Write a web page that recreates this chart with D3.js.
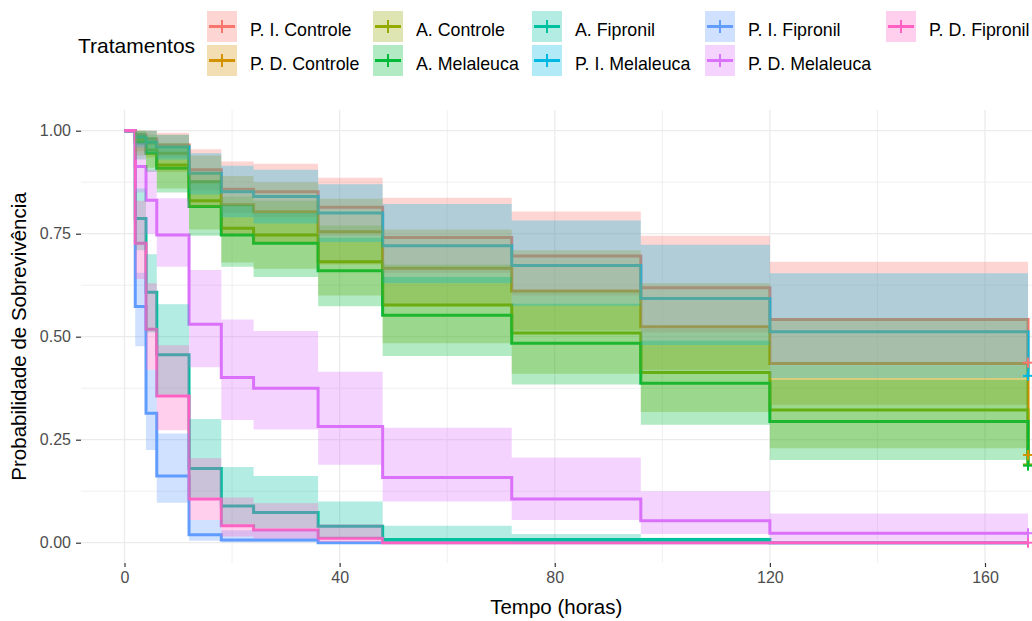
<!DOCTYPE html>
<html>
<head>
<meta charset="utf-8">
<script src="https://cdn.jsdelivr.net/npm/d3@7"></script>
<style>
  body { margin: 0; background: #ffffff; }
  text { font-family: "Liberation Sans", Arial, sans-serif; }
</style>
</head>
<body>
<svg id="chart" width="1032" height="621"></svg>
<script>
// Kaplan-Meier survival by treatment: step estimates with confidence bands.
const times = [0, 2, 4, 6, 12, 18, 24, 36, 48, 72, 96, 120, 168];

const groupNames = ["P. I. Controle", "P. D. Controle", "A. Controle", "A. Melaleuca",
  "A. Fipronil", "P. I. Melaleuca", "P. I. Fipronil", "P. D. Melaleuca", "P. D. Fipronil"];
const groupColors = ["#F8766D", "#D39200", "#93AA00", "#00BA38",
  "#00C19F", "#00B9E3", "#619CFF", "#DB72FB", "#FF61C3"];

// survival estimate at each entry of `times`
const survPIControle  = [1, 0.990, 0.980, 0.965, 0.905, 0.858, 0.852, 0.814, 0.741, 0.696, 0.619, 0.542, 0.437];
const survPDControle  = [1, 0.980, 0.970, 0.945, 0.876, 0.820, 0.803, 0.755, 0.666, 0.611, 0.524, 0.435, 0.213];
const survAControle   = [1, 0.975, 0.953, 0.917, 0.830, 0.763, 0.747, 0.682, 0.577, 0.509, 0.413, 0.322, 0.190];
const survAMelaleuca  = [1, 0.970, 0.945, 0.909, 0.816, 0.747, 0.727, 0.660, 0.552, 0.484, 0.387, 0.294, 0.187];
const survAFipronil   = [1, 0.787, 0.608, 0.456, 0.180, 0.089, 0.073, 0.040, 0.008, 0.008, 0.008, 0, 0];
const survPIMelaleuca = [1, 0.985, 0.972, 0.961, 0.897, 0.852, 0.840, 0.800, 0.721, 0.673, 0.593, 0.512, 0.405];
const survPIFipronil  = [1, 0.573, 0.314, 0.162, 0.019, 0.0066, 0.0066, 0, 0, 0, 0, 0, 0];
const survPDMelaleuca = [1, 0.913, 0.831, 0.747, 0.530, 0.401, 0.375, 0.282, 0.158, 0.106, 0.053, 0.023, 0.023];
const survPDFipronil  = [1, 0.727, 0.518, 0.356, 0.106, 0.041, 0.031, 0.011, 0, 0, 0, 0, 0];

// upper confidence limit
const upperPIControle  = [1, 1, 1, 0.995, 0.955, 0.925, 0.920, 0.886, 0.837, 0.804, 0.745, 0.682, 0.682];
const upperPDControle  = [1, 1, 1, 0.990, 0.940, 0.890, 0.875, 0.835, 0.760, 0.710, 0.630, 0.545, 0.545];
const upperAControle   = [1, 1, 0.990, 0.970, 0.900, 0.840, 0.830, 0.770, 0.675, 0.610, 0.520, 0.430, 0.430];
const upperAMelaleuca  = [1, 0.995, 0.985, 0.960, 0.880, 0.820, 0.800, 0.740, 0.645, 0.580, 0.490, 0.395, 0.395];
const upperAFipronil   = [1, 0.860, 0.700, 0.579, 0.300, 0.184, 0.162, 0.100, 0.041, 0.021, 0.012, 0, 0];
const upperPIMelaleuca = [1, 1, 1, 0.990, 0.945, 0.915, 0.905, 0.870, 0.822, 0.782, 0.723, 0.654, 0.654];
const upperPIFipronil  = [1, 0.655, 0.420, 0.265, 0.055, 0.030, 0.030, 0, 0, 0, 0, 0, 0];
const upperPDMelaleuca = [1, 0.970, 0.905, 0.836, 0.662, 0.542, 0.514, 0.415, 0.279, 0.207, 0.125, 0.071, 0.071];
const upperPDFipronil  = [1, 0.830, 0.630, 0.479, 0.205, 0.110, 0.096, 0.045, 0, 0, 0, 0, 0];

// lower confidence limit
const lowerPIControle  = [1, 0.970, 0.955, 0.935, 0.855, 0.800, 0.790, 0.745, 0.655, 0.600, 0.510, 0.430, 0.430];
const lowerPDControle  = [1, 0.950, 0.935, 0.900, 0.815, 0.750, 0.730, 0.675, 0.575, 0.515, 0.420, 0.335, 0.335];
const lowerAControle   = [1, 0.940, 0.910, 0.860, 0.760, 0.680, 0.665, 0.600, 0.484, 0.410, 0.317, 0.229, 0.229];
const lowerAMelaleuca  = [1, 0.930, 0.900, 0.850, 0.745, 0.670, 0.645, 0.574, 0.453, 0.384, 0.286, 0.201, 0.201];
const lowerAFipronil   = [1, 0.710, 0.510, 0.360, 0.110, 0.045, 0.035, 0.012, 0.002, 0.001, 0.001, 0, 0];
const lowerPIMelaleuca = [1, 0.960, 0.945, 0.930, 0.845, 0.790, 0.775, 0.730, 0.630, 0.575, 0.480, 0.400, 0.400];
const lowerPIFipronil  = [1, 0.477, 0.225, 0.097, 0.005, 0.001, 0.001, 0, 0, 0, 0, 0, 0];
const lowerPDMelaleuca = [1, 0.850, 0.750, 0.670, 0.426, 0.298, 0.275, 0.189, 0.100, 0.055, 0.021, 0.005, 0.005];
const lowerPDFipronil  = [1, 0.640, 0.420, 0.273, 0.055, 0.015, 0.010, 0.002, 0, 0, 0, 0, 0];

// groups still holding censored subjects at the end of follow-up
const censoredAtEnd = [true, true, true, true, false, true, false, true, true];

const survAll  = [survPIControle, survPDControle, survAControle, survAMelaleuca, survAFipronil,
  survPIMelaleuca, survPIFipronil, survPDMelaleuca, survPDFipronil];
const upperAll = [upperPIControle, upperPDControle, upperAControle, upperAMelaleuca, upperAFipronil,
  upperPIMelaleuca, upperPIFipronil, upperPDMelaleuca, upperPDFipronil];
const lowerAll = [lowerPIControle, lowerPDControle, lowerAControle, lowerAMelaleuca, lowerAFipronil,
  lowerPIMelaleuca, lowerPIFipronil, lowerPDMelaleuca, lowerPDFipronil];

const xTicks = [0, 40, 80, 120, 160];
const yTicks = [0, 0.25, 0.5, 0.75, 1];
const xMinor = [20, 60, 100, 140];
const yMinor = [0.125, 0.375, 0.625, 0.875];

const svg = d3.select("#chart");
const panel = { left: 81, right: 1032, top: 110, bottom: 563 };

const x = d3.scaleLinear().domain([0, 160]).range([124.5, 985]);
const y = d3.scaleLinear().domain([0, 1]).range([542.7, 130.7]);

// grid
const grid = svg.append("g");
grid.selectAll(".xminor").data(xMinor).join("line")
  .attr("x1", d => x(d)).attr("x2", d => x(d))
  .attr("y1", panel.top).attr("y2", panel.bottom)
  .attr("stroke", "#EBEBEB").attr("stroke-width", 0.8);
grid.selectAll(".yminor").data(yMinor).join("line")
  .attr("y1", d => y(d)).attr("y2", d => y(d))
  .attr("x1", panel.left).attr("x2", panel.right)
  .attr("stroke", "#EBEBEB").attr("stroke-width", 0.8);
grid.selectAll(".xmajor").data(xTicks).join("line")
  .attr("x1", d => x(d)).attr("x2", d => x(d))
  .attr("y1", panel.top).attr("y2", panel.bottom)
  .attr("stroke", "#EBEBEB").attr("stroke-width", 1.3);
grid.selectAll(".ymajor").data(yTicks).join("line")
  .attr("y1", d => y(d)).attr("y2", d => y(d))
  .attr("x1", panel.left).attr("x2", panel.right)
  .attr("stroke", "#EBEBEB").attr("stroke-width", 1.3);

// axes
const xAxis = d3.axisBottom(x).tickValues(xTicks).tickSize(4).tickPadding(5).tickFormat(d3.format("d"));
const yAxis = d3.axisLeft(y).tickValues(yTicks).tickSize(5).tickPadding(5).tickFormat(d3.format(".2f"));

const gx = svg.append("g").attr("transform", `translate(0,${panel.bottom})`).call(xAxis);
const gy = svg.append("g").attr("transform", `translate(${panel.left},0)`).call(yAxis);
[gx, gy].forEach(g => {
  g.select(".domain").remove();
  g.selectAll(".tick line").attr("stroke", "#333333").attr("stroke-width", 1.2);
  g.selectAll(".tick text").attr("fill", "#4D4D4D").style("font-size", "16px");
});

svg.append("text")
  .attr("x", (x(0) + x(168)) / 2 - 20).attr("y", 614)
  .attr("text-anchor", "middle").attr("fill", "#000")
  .style("font-size", "20.5px").text("Tempo (horas)");
svg.append("text")
  .attr("transform", `translate(26,${(panel.top + panel.bottom) / 2}) rotate(-90)`)
  .attr("text-anchor", "middle").attr("fill", "#000")
  .style("font-size", "20.5px").text("Probabilidade de Sobrevivência");

// build per-group records
const series = groupNames.map((name, g) => ({
  name, color: groupColors[g], censored: censoredAtEnd[g],
  pts: times.map((t, i) => ({ t, s: survAll[g][i], lo: lowerAll[g][i], hi: upperAll[g][i] }))
}));

const plot = svg.append("g");

const line = d3.line().curve(d3.curveStepAfter).x(d => x(d.t)).y(d => y(d.s));
const band = d3.area().curve(d3.curveStepAfter).x(d => x(d.t)).y0(d => y(d.lo)).y1(d => y(d.hi));

// survival curves first, confidence ribbons over them, censor marks on top
plot.selectAll(".curve").data(series).join("path")
  .attr("d", d => line(d.pts))
  .attr("fill", "none").attr("stroke", d => d.color).attr("stroke-width", 3);

// ribbon holds the last interval's limits until the end of follow-up
plot.selectAll(".band").data(series).join("path")
  .attr("d", d => {
    const n = d.pts.length;
    const pts = d.pts.slice(0, n - 1).concat([{ ...d.pts[n - 2], t: d.pts[n - 1].t }]);
    return band(pts);
  })
  .attr("fill", d => d.color).attr("fill-opacity", 0.3).attr("stroke", "none");

const marks = plot.selectAll(".censor").data(series.filter(d => d.censored)).join("g")
  .attr("transform", d => `translate(${x(168)},${y(d.pts[d.pts.length - 1].s)})`);
marks.append("line").attr("x1", -5).attr("x2", 5).attr("y1", 0).attr("y2", 0)
  .attr("stroke", d => d.color).attr("stroke-width", 2);
marks.append("line").attr("x1", 0).attr("x2", 0).attr("y1", -5).attr("y2", 5)
  .attr("stroke", d => d.color).attr("stroke-width", 2);

// legend
const legend = svg.append("g");
legend.append("text").attr("x", 78).attr("y", 53).attr("fill", "#000")
  .style("font-size", "21px").text("Tratamentos");

const keyX = [207, 373, 532, 705, 886];
const labelX = [250, 416, 575, 748, 929];
const keyY = [11, 45];
groupNames.forEach((name, g) => {
  const col = Math.floor(g / 2), row = g % 2;
  const kx = keyX[col], ky = keyY[row];
  const k = legend.append("g");
  k.append("rect").attr("x", kx).attr("y", ky).attr("width", 30).attr("height", 31)
    .attr("fill", groupColors[g]).attr("fill-opacity", 0.3);
  k.append("line").attr("x1", kx + 2).attr("x2", kx + 28).attr("y1", ky + 15.5).attr("y2", ky + 15.5)
    .attr("stroke", groupColors[g]).attr("stroke-width", 3);
  k.append("line").attr("x1", kx + 15).attr("x2", kx + 15).attr("y1", ky + 9).attr("y2", ky + 22)
    .attr("stroke", groupColors[g]).attr("stroke-width", 2);
  legend.append("text").attr("x", labelX[col]).attr("y", ky + 25).attr("fill", "#000")
    .style("font-size", "17.8px").text(name);
});
</script>
</body>
</html>
